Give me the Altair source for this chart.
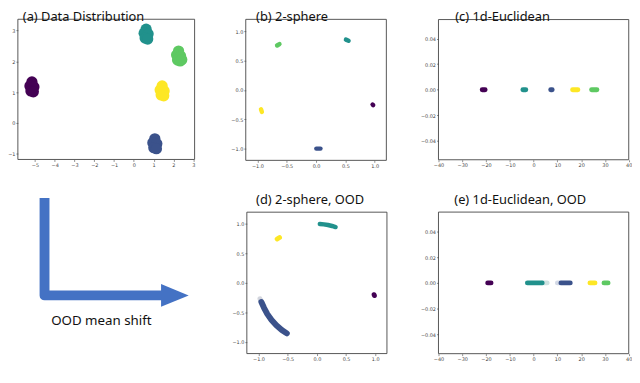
import altair as alt
import pandas as pd

W, H = 632, 375

PURPLE, BLUE, TEAL, GREEN, YELLOW = "#440154", "#3b528b", "#21918c", "#5ec962", "#fde725"

# ---------------- (a) Data Distribution : blob points ----------------
a_x = [-5.15, -5.25, -5.05, -5.20, -5.08,
       0.62, 0.52, 0.72, 0.57, 0.70,
       2.26, 2.16, 2.36, 2.21, 2.34, 2.42,
       1.43, 1.33, 1.53, 1.38, 1.51,
       1.06, 0.96, 1.16, 1.01, 1.14]
a_y = [1.33, 1.20, 1.17, 1.04, 1.01,
       3.04, 2.91, 2.88, 2.75, 2.72,
       2.33, 2.20, 2.17, 2.04, 2.01, 2.05,
       1.20, 1.07, 1.04, 0.91, 0.88,
       -0.51, -0.64, -0.67, -0.80, -0.83]
a_c = [PURPLE] * 5 + [TEAL] * 5 + [GREEN] * 6 + [YELLOW] * 5 + [BLUE] * 5

# ---------------- (b) 2-sphere ----------------
b_seg = [0, 0, 1, 1, 2, 2, 3, 3, 4, 4]
b_x = [0.965, 0.975, 0.005, 0.075, 0.51, 0.555, -0.665, -0.625, -0.94, -0.925]
b_y = [-0.25, -0.26, -1.0, -1.0, 0.855, 0.835, 0.755, 0.78, -0.33, -0.375]
b_c = [PURPLE] * 2 + [BLUE] * 2 + [TEAL] * 2 + [GREEN] * 2 + [YELLOW] * 2

# ---------------- (c) 1d-Euclidean ----------------
c_seg = [0, 0, 1, 1, 2, 2, 3, 3, 4, 4]
c_x = [-21.6, -20.4, -4.5, -3.3, 7.2, 7.8, 16.4, 18.6, 24.4, 26.6]
c_c = [PURPLE] * 2 + [TEAL] * 2 + [BLUE] * 2 + [YELLOW] * 2 + [GREEN] * 2

# ---------------- (d) 2-sphere, OOD ----------------
d_seg = [0, 0,
         1, 1, 1, 1, 1,
         2, 2,
         3, 3,
         4, 4, 4, 4, 4, 4, 4]
d_x = [-0.68, -0.64,
       0.05, 0.12, 0.19, 0.26, 0.32,
       0.98, 0.985,
       -0.975, -0.965,
       -0.951, -0.906, -0.848, -0.777, -0.695, -0.602, -0.515]
d_y = [0.745, 0.77,
       1.0, 0.993, 0.982, 0.966, 0.947,
       -0.2, -0.215,
       -0.27, -0.29,
       -0.325, -0.423, -0.530, -0.629, -0.719, -0.799, -0.857]
d_c = [YELLOW] * 2 + [TEAL] * 5 + [PURPLE] * 2 + ["#d3d6de"] * 2 + [BLUE] * 7
d_w = [5] * 2 + [4.5] * 5 + [5] * 2 + [5] * 2 + [6] * 7

# ---------------- (e) 1d-Euclidean, OOD ----------------
e_seg = [0, 0, 1, 1, 2, 2, 3, 3, 4, 4, 5, 5, 6, 6]
e_x = [-19.3, -17.9, 3.6, 5.7, -2.6, 3.6, 10.0, 11.2, 11.5, 15.4, 23.7, 25.8, 29.6, 31.3]
e_c = [PURPLE] * 2 + ["#cfe2e1"] * 2 + [TEAL] * 2 + ["#d3d9e6"] * 2 + [BLUE] * 2 + [YELLOW] * 2 + [GREEN] * 2

# ---------------- ticks ----------------
a_xticks = [-5, -4, -3, -2, -1, 0, 1, 2, 3]
a_yticks = [-1, 0, 1, 2, 3]
s_ticks = [-1.0, -0.5, 0.0, 0.5, 1.0]
e_xticks = [-40, -30, -20, -10, 0, 10, 20, 30, 40]
e_yticks = [-0.04, -0.02, 0.0, 0.02, 0.04]

# ---------------- texts ----------------
t_text = ["(a) Data Distribution", "(b) 2-sphere", "(c) 1d-Euclidean",
          "(d) 2-sphere, OOD", "(e) 1d-Euclidean, OOD", "OOD mean shift"]
t_x = [15, 251.3, 453, 251.3, 452, 43.7]
t_y = [10.5, 10.5, 10.5, 196.4, 196.4, 318.7]
t_s = [13, 13, 13, 13, 13, 13.5]

# ---------------- arrow (decoration) ----------------
arrow_x = [37, 37, 157]
arrow_y = [190, 288.7, 288.7]
head_x = [169]
head_y = [288.7]

AXIS_COMMON = dict(domain=False, grid=False, ticks=True, tickSize=2, tickWidth=0.6,
                   tickColor="#444", labelFontSize=5, labelColor="#444", labelPadding=1,
                   labelFlush=False, labelOverlap=False, title=None, labelFont="DejaVu Sans")


def panel(layers_df, kind, xdom, xr, ydom, yr, xticks, yticks, xfmt, yfmt):
    xsc = alt.Scale(domain=xdom, range=xr, nice=False, zero=False)
    ysc = alt.Scale(domain=ydom, range=yr, nice=False, zero=False)
    xax = alt.Axis(orient="bottom", offset=yr[0] - H, values=xticks, format=xfmt, **AXIS_COMMON)
    yax = alt.Axis(orient="left", offset=-xr[0], values=yticks, format=yfmt, **AXIS_COMMON)
    frame_df = pd.DataFrame({"x0": [xdom[0]], "x1": [xdom[1]], "y0": [ydom[0]], "y1": [ydom[1]]})
    frame = alt.Chart(frame_df).mark_rect(fillOpacity=0, stroke="#444", strokeWidth=0.9).encode(
        x=alt.X("x0:Q", scale=xsc, axis=xax), x2="x1:Q",
        y=alt.Y("y0:Q", scale=ysc, axis=yax), y2="y1:Q")
    if kind == "circle":
        marks = alt.Chart(layers_df).mark_circle(size=130, opacity=1).encode(
            x=alt.X("x:Q", scale=xsc, axis=xax),
            y=alt.Y("y:Q", scale=ysc, axis=yax),
            color=alt.Color("c:N", scale=None))
    else:
        marks = alt.Chart(layers_df).mark_line(strokeCap="round", strokeJoin="round").encode(
            x=alt.X("x:Q", scale=xsc, axis=xax),
            y=alt.Y("y:Q", scale=ysc, axis=yax),
            color=alt.Color("c:N", scale=None),
            strokeWidth=alt.StrokeWidth("w:Q", scale=None),
            detail="g:N",
            order="o:Q")
    return alt.layer(frame, marks)


def seg_df(seg, xs, ys, cs, ws):
    return pd.DataFrame({"g": seg, "x": xs, "y": ys, "c": cs, "w": ws,
                         "o": list(range(len(xs)))})


df_a = pd.DataFrame({"x": a_x, "y": a_y, "c": a_c})
df_b = seg_df(b_seg, b_x, b_y, b_c, [4.5] * len(b_x))
df_c = seg_df(c_seg, c_x, [0.0] * len(c_x), c_c, [5] * len(c_x))
df_d = seg_df(d_seg, d_x, d_y, d_c, d_w)
df_e = seg_df(e_seg, e_x, [0.0] * len(e_x), e_c, [5] * len(e_x))

pa = panel(df_a, "circle", [-5.86, 3.07], [10, 189], [-1.18, 3.36], [151, 9],
           a_xticks, a_yticks, "d", "d")
pb = panel(df_b, "line", [-1.2, 1.2], [240.8, 383.2], [-1.2, 1.2], [151.9, 9.1],
           s_ticks, s_ticks, ".1f", ".1f")
pc = panel(df_c, "line", [-40, 40], [436, 628.7], [-0.055, 0.055], [151.3, 9.3],
           e_xticks, e_yticks, "d", ".2f")
pd_ = panel(df_d, "line", [-1.2, 1.2], [241.9, 383.8], [-1.2, 1.2], [347.6, 204.4],
            s_ticks, s_ticks, ".1f", ".1f")
pe = panel(df_e, "line", [-40, 40], [436, 628.7], [-0.055, 0.055], [347.7, 204.3],
           e_xticks, e_yticks, "d", ".2f")

ARROW = "#4472C4"
arrow_df = pd.DataFrame({"x": arrow_x, "y": arrow_y, "o": [0, 1, 2]})
arrow_line = alt.Chart(arrow_df).mark_line(color=ARROW, strokeWidth=10, strokeCap="butt",
                                           strokeJoin="round").encode(
    x=alt.X("x:Q", scale=None, axis=None),
    y=alt.Y("y:Q", scale=None, axis=None),
    order="o:Q")
head_df = pd.DataFrame({"x": head_x, "y": head_y})
arrow_head = alt.Chart(head_df).mark_point(
    shape="M-1,-0.82L1,0L-1,0.82Z", filled=True, fill=ARROW, opacity=1, size=784,
    strokeWidth=0).encode(
    x=alt.X("x:Q", scale=None, axis=None),
    y=alt.Y("y:Q", scale=None, axis=None))

text_df = pd.DataFrame({"t": t_text, "x": t_x, "y": t_y, "s": t_s})
texts = alt.Chart(text_df).mark_text(align="left", baseline="alphabetic", font="Noto Sans",
                                     color="#111").encode(
    x=alt.X("x:Q", scale=None, axis=None),
    y=alt.Y("y:Q", scale=None, axis=None),
    size=alt.Size("s:Q", scale=None),
    text="t:N")

chart = alt.layer(pa, pb, pc, pd_, pe, arrow_line, arrow_head, texts).resolve_scale(
    x="independent", y="independent"
).properties(
    width=W, height=H, padding=0, autosize=alt.AutoSizeParams(type="none")
).configure_view(stroke=None)

chart.save("out.html", embed_options={"renderer": "svg", "actions": False})
